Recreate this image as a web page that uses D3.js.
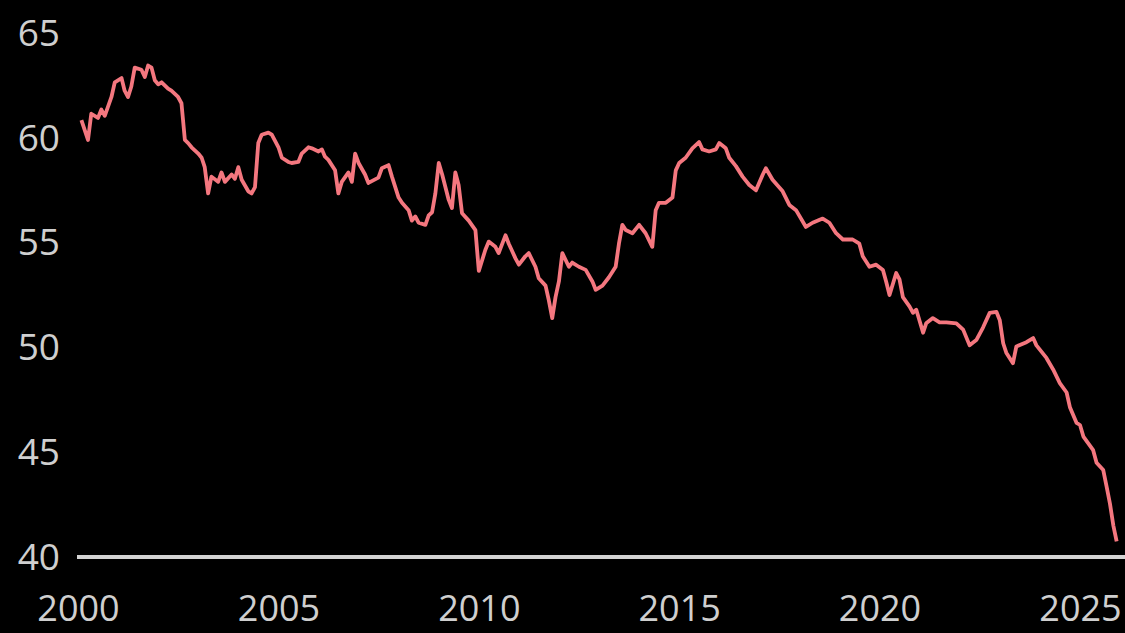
<!DOCTYPE html>
<html>
<head>
<meta charset="utf-8">
<script src="https://cdn.jsdelivr.net/npm/d3@7"></script>
<style>
  html, body { margin: 0; padding: 0; background: #000; }
  svg { display: block; }
  .tick text { font-family: "Open Sans", sans-serif; fill: #cfcfcf; }
</style>
</head>
<body>
<svg id="chart" width="1125" height="633"></svg>
<script>
// month of each reading
var months = [
  "2000-02","2000-04","2000-05","2000-07","2000-08","2000-09","2000-11","2000-12",
  "2001-02","2001-03","2001-04","2001-05","2001-06","2001-08","2001-09","2001-10","2001-11","2001-12",
  "2002-01","2002-02","2002-04","2002-05","2002-07","2002-08","2002-09","2002-10","2002-11",
  "2003-01","2003-02","2003-03","2003-04","2003-05","2003-07","2003-08","2003-09","2003-11","2003-12",
  "2004-01","2004-02","2004-04","2004-05","2004-06","2004-07","2004-08","2004-10","2004-11",
  "2005-01","2005-02","2005-04","2005-05","2005-07","2005-08","2005-10","2005-11",
  "2006-01","2006-02","2006-03","2006-04","2006-06","2006-07","2006-08","2006-10","2006-11","2006-12",
  "2007-01","2007-03","2007-04","2007-07","2007-08","2007-10","2007-11",
  "2008-01","2008-02","2008-04","2008-05","2008-06","2008-07","2008-09","2008-10","2008-11","2008-12",
  "2009-01","2009-02","2009-04","2009-05","2009-06","2009-07","2009-08","2009-10","2009-12",
  "2010-01","2010-03","2010-04","2010-06","2010-07","2010-09","2010-10","2010-12",
  "2011-01","2011-03","2011-04","2011-06","2011-07","2011-09","2011-10","2011-11","2011-12",
  "2012-01","2012-02","2012-04","2012-05","2012-07","2012-09","2012-11","2012-12",
  "2013-02","2013-04","2013-06","2013-07","2013-08","2013-09","2013-11",
  "2014-01","2014-03","2014-05","2014-06","2014-07","2014-09","2014-11","2014-12",
  "2015-01","2015-03","2015-05","2015-07","2015-08","2015-10","2015-12",
  "2016-01","2016-03","2016-04","2016-06","2016-08","2016-10","2016-12",
  "2017-02","2017-03","2017-05","2017-08","2017-10","2017-12",
  "2018-03","2018-05","2018-08","2018-10","2018-12",
  "2019-02","2019-05","2019-07","2019-08","2019-10","2019-12",
  "2020-02","2020-03","2020-04","2020-06","2020-07","2020-08","2020-10","2020-11","2020-12",
  "2021-02","2021-03","2021-05","2021-07","2021-09","2021-12",
  "2022-02","2022-04","2022-06","2022-08","2022-10","2022-12",
  "2023-01","2023-02","2023-03","2023-05","2023-06","2023-09","2023-11","2023-12",
  "2024-03","2024-05","2024-07","2024-09","2024-10","2024-12",
  "2025-01","2025-02","2025-05","2025-06","2025-08","2025-09","2025-10","2025-11","2025-12"
];

var values = [
  60.8,59.85,61.1,60.9,61.3,61.0,61.9,62.6,
  62.8,62.2,61.9,62.4,63.3,63.2,62.85,63.4,63.3,62.7,
  62.5,62.6,62.3,62.2,61.9,61.6,59.85,59.7,59.5,
  59.2,59.0,58.55,57.3,58.1,57.85,58.3,57.85,58.2,58.0,
  58.55,57.95,57.4,57.3,57.6,59.7,60.1,60.2,60.1,
  59.5,59.0,58.8,58.75,58.8,59.2,59.5,59.45,
  59.3,59.4,59.05,58.9,58.4,57.3,57.85,58.3,57.85,59.2,
  58.75,58.2,57.8,58.05,58.5,58.65,58.1,
  57.1,56.85,56.5,56.0,56.2,55.9,55.8,56.25,56.4,57.3,
  58.75,58.2,57.0,56.6,58.3,57.7,56.35,56.0,55.55,
  53.6,54.6,55.0,54.75,54.45,55.3,54.9,54.2,
  53.9,54.3,54.45,53.8,53.25,52.9,52.2,51.35,52.35,
  53.1,54.45,53.8,54.0,53.8,53.65,53.1,52.7,
  52.9,53.3,53.8,54.9,55.8,55.55,55.4,
  55.8,55.4,54.75,56.5,56.85,56.85,57.1,58.4,
  58.75,59.0,59.45,59.75,59.4,59.3,59.4,
  59.7,59.45,59.0,58.6,58.1,57.7,57.45,
  58.2,58.5,57.95,57.4,56.75,56.5,
  55.7,55.9,56.1,55.9,55.4,
  55.1,55.1,54.9,54.3,53.8,53.9,
  53.65,53.1,52.45,53.5,53.2,52.35,51.9,51.6,51.75,
  50.65,51.1,51.35,51.15,51.15,51.1,
  50.8,50.05,50.3,50.9,51.6,51.65,
  51.25,50.15,49.7,49.2,50.0,50.2,50.4,50.05,
  49.45,48.9,48.25,47.8,47.1,46.35,
  46.25,45.7,45.05,44.45,44.1,43.3,42.5,41.45,40.7
];

var yTicks = [40, 45, 50, 55, 60, 65];
var xTickYears = [2000, 2005, 2010, 2015, 2020, 2025];

var parseMonth = d3.timeParse("%Y-%m");
var data = months.map(function(m, i) { return { date: parseMonth(m), value: values[i] }; });

var svg = d3.select("#chart");

svg.append("rect").attr("width", 1125).attr("height", 633).attr("fill", "#000");

var x = d3.scaleTime()
    .domain([new Date(2000, 0, 1), new Date(2025, 0, 1)])
    .range([78, 1080]);

var y = d3.scaleLinear()
    .domain([40, 65])
    .range([556, 32]);

// y axis labels, no lines
var yAxis = svg.append("g")
    .attr("transform", "translate(60,0)")
    .call(d3.axisLeft(y).tickValues(yTicks).tickSize(0).tickPadding(0));
yAxis.select(".domain").remove();
yAxis.selectAll("text").style("font-size", "37px").attr("dy", "0.36em");

// x axis labels
var xAxis = svg.append("g")
    .attr("transform", "translate(0,594)")
    .call(d3.axisBottom(x)
        .tickValues(xTickYears.map(function(yr) { return new Date(yr, 0, 1); }))
        .tickFormat(d3.timeFormat("%Y"))
        .tickSize(0).tickPadding(0));
xAxis.select(".domain").remove();
xAxis.selectAll("text").style("font-size", "36px").attr("dy", "0.76em");

// baseline at 40
svg.append("line")
    .attr("x1", 77).attr("x2", 1125)
    .attr("y1", y(40) + 1).attr("y2", y(40) + 1)
    .attr("stroke", "#d4d4d4")
    .attr("stroke-width", 4);

// the series
var line = d3.line()
    .x(function(d) { return x(d.date); })
    .y(function(d) { return y(d.value); });

svg.append("path")
    .datum(data)
    .attr("fill", "none")
    .attr("stroke", "#f4777f")
    .attr("stroke-width", 3.8)
    .attr("stroke-linejoin", "round")
    .attr("d", line);
</script>
</body>
</html>
